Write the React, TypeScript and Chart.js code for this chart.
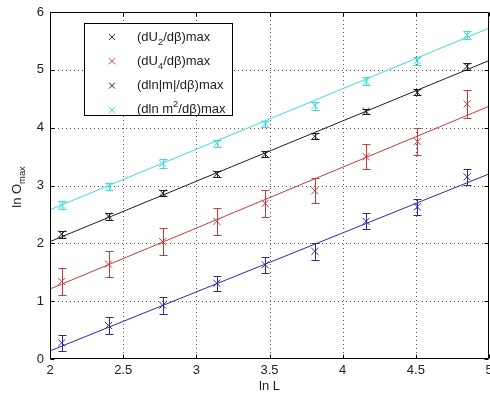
import React, { useEffect, useRef } from 'react';
import { Chart, registerables } from 'chart.js';

Chart.register(...registerables);

// ---- data ----
const lnL = [2.08, 2.40, 2.77, 3.14, 3.47, 3.81, 4.16, 4.51, 4.85];

const dU2 = [0.28, 0.58, 0.93, 1.31, 1.63, 1.86, 2.38, 2.63, 3.15];
const dU2Err = [0.14, 0.14, 0.15, 0.13, 0.14, 0.14, 0.14, 0.14, 0.14];

const dU4 = [1.34, 1.64, 2.03, 2.38, 2.69, 2.91, 3.50, 3.76, 4.41];
const dU4Err = [0.23, 0.23, 0.23, 0.23, 0.23, 0.22, 0.22, 0.23, 0.24];

const dlnM = [2.16, 2.47, 2.87, 3.20, 3.54, 3.85, 4.28, 4.61, 5.06];
const dlnMErr = [0.06, 0.06, 0.05, 0.05, 0.05, 0.05, 0.05, 0.05, 0.06];

const dlnM2 = [2.66, 2.99, 3.38, 3.73, 4.07, 4.38, 4.80, 5.16, 5.60];
const dlnM2Err = [0.07, 0.06, 0.07, 0.06, 0.05, 0.07, 0.07, 0.07, 0.07];

// fitted lines: values at ln L = 2 and ln L = 5
const fitX = [2, 5];
const dU2Fit = [0.14, 3.20];
const dU4Fit = [1.21, 4.37];
const dlnMFit = [2.03, 5.16];
const dlnM2Fit = [2.58, 5.72];

const xTicks = [2, 2.5, 3, 3.5, 4, 4.5, 5];
const xTickLabels = ['2', '2.5', '3', '3.5', '4', '4.5', '5'];
const yTicks = [0, 1, 2, 3, 4, 5, 6];
const yTickLabels = ['0', '1', '2', '3', '4', '5', '6'];

type Part = { t: string; s?: 'sub' | 'sup' };
const legendLabels: Part[][] = [
  [{ t: '(dU' }, { t: '2', s: 'sub' }, { t: '/dβ)max' }],
  [{ t: '(dU' }, { t: '4', s: 'sub' }, { t: '/dβ)max' }],
  [{ t: '(dln|m|/dβ)max' }],
  [{ t: '(dln m' }, { t: '2', s: 'sup' }, { t: '/dβ)max' }],
];

const BLUE = '#2a2aa6';
const RED = '#c83a3a';
const BLACK = '#1e1e1e';
const CYAN = '#3edcdc';
const FONT = '"Liberation Sans", Arial, sans-serif';

const series = [
  { y: dU2, err: dU2Err, fit: dU2Fit, color: BLUE },
  { y: dU4, err: dU4Err, fit: dU4Fit, color: RED },
  { y: dlnM, err: dlnMErr, fit: dlnMFit, color: BLACK },
  { y: dlnM2, err: dlnM2Err, fit: dlnM2Fit, color: CYAN },
];

function drawParts(ctx: CanvasRenderingContext2D, parts: Part[], x: number, y: number, size: number) {
  let cx = x;
  for (const p of parts) {
    if (p.s) {
      ctx.font = `${size * 0.72}px ${FONT}`;
      const dy = p.s === 'sub' ? size * 0.38 : -size * 0.42;
      ctx.fillText(p.t, cx, y + dy);
      cx += ctx.measureText(p.t).width;
    } else {
      ctx.font = `${size}px ${FONT}`;
      ctx.fillText(p.t, cx, y);
      cx += ctx.measureText(p.t).width;
    }
  }
  return cx - x;
}

function drawCross(ctx: CanvasRenderingContext2D, x: number, y: number, r: number, color: string) {
  ctx.save();
  ctx.strokeStyle = color;
  ctx.lineWidth = 1;
  ctx.beginPath();
  ctx.moveTo(x - r, y - r);
  ctx.lineTo(x + r, y + r);
  ctx.moveTo(x - r, y + r);
  ctx.lineTo(x + r, y - r);
  ctx.stroke();
  ctx.restore();
}

const matlabPlugin = {
  id: 'matlabLook',
  beforeDatasetsDraw(chart: any) {
    const { ctx, chartArea: a, scales } = chart;
    const x = scales.x;
    const y = scales.y;
    ctx.save();
    ctx.strokeStyle = 'rgba(0,0,0,0.65)';
    ctx.lineWidth = 1;
    ctx.setLineDash([1, 3]);
    for (const v of xTicks.slice(1, -1)) {
      const px = Math.round(x.getPixelForValue(v)) + 0.5;
      ctx.beginPath();
      ctx.moveTo(px, a.top);
      ctx.lineTo(px, a.bottom);
      ctx.stroke();
    }
    for (const v of yTicks.slice(1, -1)) {
      const py = Math.round(y.getPixelForValue(v)) + 0.5;
      ctx.beginPath();
      ctx.moveTo(a.left, py);
      ctx.lineTo(a.right, py);
      ctx.stroke();
    }
    ctx.restore();

    // error bars
    ctx.save();
    ctx.beginPath();
    ctx.rect(a.left, a.top, a.right - a.left, a.bottom - a.top);
    ctx.clip();
    ctx.lineWidth = 1;
    for (const s of series) {
      ctx.strokeStyle = s.color;
      s.y.forEach((v, i) => {
        const px = Math.round(x.getPixelForValue(lnL[i])) + 0.5;
        const top = Math.round(y.getPixelForValue(v + s.err[i])) + 0.5;
        const bot = Math.round(y.getPixelForValue(v - s.err[i])) + 0.5;
        ctx.beginPath();
        ctx.moveTo(px, top);
        ctx.lineTo(px, bot);
        ctx.moveTo(px - 4, top);
        ctx.lineTo(px + 4, top);
        ctx.moveTo(px - 4, bot);
        ctx.lineTo(px + 4, bot);
        ctx.stroke();
      });
    }
    ctx.restore();
  },
  afterDraw(chart: any) {
    const { ctx, chartArea: a, scales } = chart;
    const x = scales.x;
    const y = scales.y;
    ctx.save();
    // box
    ctx.strokeStyle = '#000';
    ctx.lineWidth = 1;
    const L = Math.round(a.left) + 0.5;
    const R = Math.round(a.right) - 0.5;
    const T = Math.round(a.top) + 0.5;
    const B = Math.round(a.bottom) - 0.5;
    ctx.beginPath();
    ctx.rect(L, T, R - L, B - T);
    ctx.stroke();
    // inward ticks
    ctx.beginPath();
    for (const v of xTicks) {
      const px = Math.round(x.getPixelForValue(v)) + 0.5;
      ctx.moveTo(px, B);
      ctx.lineTo(px, B - 4);
      ctx.moveTo(px, T);
      ctx.lineTo(px, T + 4);
    }
    for (const v of yTicks) {
      const py = Math.round(y.getPixelForValue(v)) + 0.5;
      ctx.moveTo(L, py);
      ctx.lineTo(L + 4, py);
      ctx.moveTo(R, py);
      ctx.lineTo(R - 4, py);
    }
    ctx.stroke();

    // legend
    const lx = 84.5, ly = 23.5, lw = 148, lh = 92;
    ctx.fillStyle = '#fff';
    ctx.fillRect(lx, ly, lw, lh);
    ctx.strokeStyle = '#000';
    ctx.strokeRect(lx, ly, lw, lh);
    ctx.textBaseline = 'middle';
    ctx.textAlign = 'left';
    legendLabels.forEach((parts, i) => {
      const ry = 37 + i * 24.3;
      drawCross(ctx, 112, ry, 3, series[i].color);
      ctx.fillStyle = '#222';
      drawParts(ctx, parts, 137, ry, 13);
    });

    // x title
    ctx.fillStyle = '#222';
    ctx.textAlign = 'center';
    ctx.font = `13px ${FONT}`;
    ctx.fillText('ln L', (a.left + a.right) / 2, 386);

    // y title with subscript
    ctx.save();
    ctx.translate(17, 187);
    ctx.rotate(-Math.PI / 2);
    ctx.textAlign = 'left';
    ctx.font = `13px ${FONT}`;
    const w1 = ctx.measureText('ln O').width;
    ctx.font = `${13 * 0.72}px ${FONT}`;
    const w2 = ctx.measureText('max').width;
    const start = -(w1 + w2) / 2;
    ctx.font = `13px ${FONT}`;
    ctx.fillText('ln O', start, 0);
    ctx.font = `${13 * 0.72}px ${FONT}`;
    ctx.fillText('max', start + w1, 5);
    ctx.restore();

    ctx.restore();
  },
};

export default function App() {
  const ref = useRef<HTMLCanvasElement | null>(null);
  useEffect(() => {
    if (!ref.current) return;
    const datasets: any[] = [];
    series.forEach((s) => {
      datasets.push({
        type: 'line',
        data: fitX.map((v, i) => ({ x: v, y: s.fit[i] })),
        borderColor: s.color,
        borderWidth: 1,
        pointRadius: 0,
        fill: false,
        order: 2,
      });
      datasets.push({
        type: 'scatter',
        data: lnL.map((v, i) => ({ x: v, y: s.y[i] })),
        borderColor: s.color,
        backgroundColor: s.color,
        pointStyle: 'crossRot',
        pointRadius: 5,
        pointBorderWidth: 1,
        showLine: false,
        order: 1,
      });
    });
    const chart = new Chart(ref.current, {
      type: 'scatter',
      data: { datasets },
      options: {
        animation: false,
        responsive: false,
        maintainAspectRatio: false,
        layout: { autoPadding: false, padding: { top: 12, right: 1, left: 0, bottom: 0 } },
        plugins: { legend: { display: false }, tooltip: { enabled: false } },
        scales: {
          x: {
            type: 'linear',
            min: 2,
            max: 5,
            afterBuildTicks: (sc: any) => { sc.ticks = xTicks.map((v) => ({ value: v })); },
            afterFit: (sc: any) => {
              sc.height = 34;
              sc.paddingLeft = 0;
              sc.paddingRight = 0;
            },
            grid: { display: false, drawTicks: false },
            border: { display: false },
            ticks: {
              padding: 4,
              color: '#222',
              font: { family: FONT, size: 13 },
              maxRotation: 0,
              autoSkip: false,
              callback: (_v: any, i: number) => xTickLabels[i],
            },
          },
          y: {
            type: 'linear',
            min: 0,
            max: 6,
            afterBuildTicks: (sc: any) => { sc.ticks = yTicks.map((v) => ({ value: v })); },
            afterFit: (sc: any) => {
              sc.width = 50;
              sc.paddingTop = 0;
              sc.paddingBottom = 0;
            },
            grid: { display: false, drawTicks: false },
            border: { display: false },
            ticks: {
              padding: 6,
              color: '#222',
              font: { family: FONT, size: 13 },
              callback: (_v: any, i: number) => yTickLabels[i],
            },
          },
        },
      } as any,
      plugins: [matlabPlugin],
    });
    return () => chart.destroy();
  }, []);
  return (
    <div style={{ position: 'fixed', left: 0, top: 0, width: 490, height: 393, background: '#fff' }}>
      <canvas ref={ref} width={490} height={393} />
    </div>
  );
}
